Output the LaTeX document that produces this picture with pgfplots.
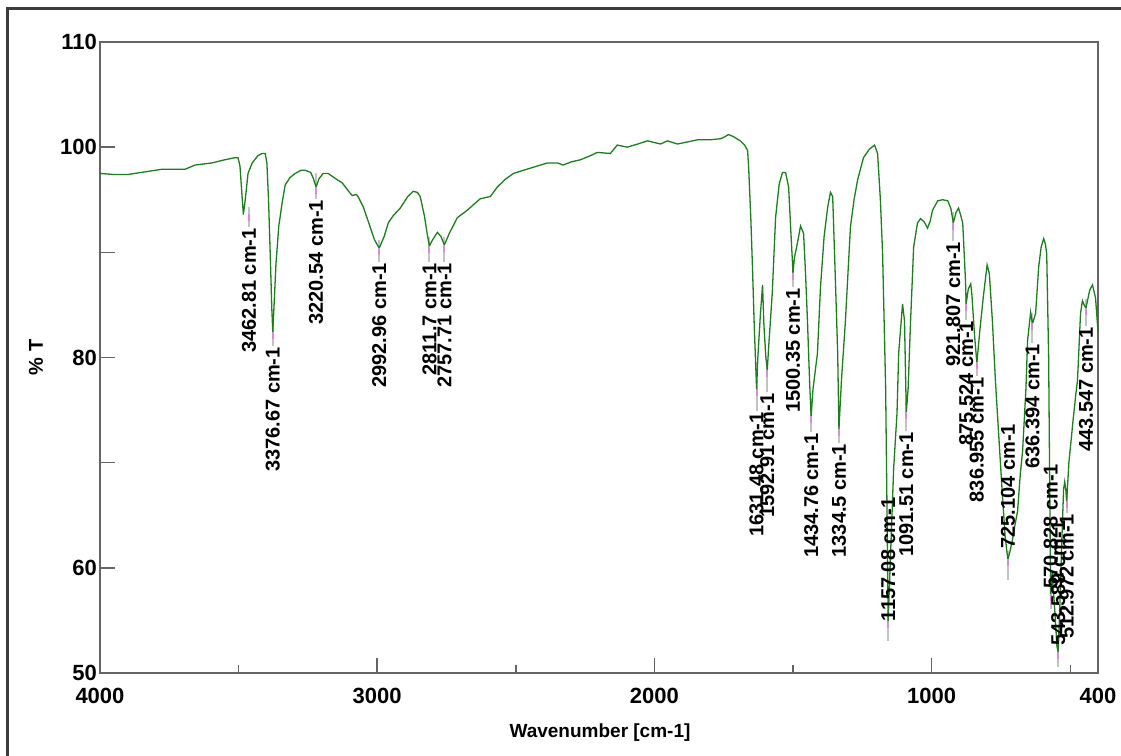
\documentclass[border=0pt]{standalone}
\usepackage{fontspec}
\setmainfont{Liberation Sans}
\usepackage{pgfplots}
\pgfplotsset{compat=1.18}
\usepackage{pgfplotstable}
\definecolor{spec}{RGB}{30,125,30}
\definecolor{frame}{RGB}{60,60,60}
\definecolor{axisgray}{RGB}{100,100,100}
\definecolor{peakgray}{RGB}{195,195,195}
\definecolor{peakpink}{RGB}{215,140,215}

\pgfplotstableread{
x y
4000 97.5
3950 97.4
3899 97.4
3850 97.6
3776 97.9
3693 97.9
3657 98.3
3596 98.5
3550 98.8
3513 99.0
3502 99.0
3495 98.2
3488 95.5
3482.81 93.6
3476 95.0
3466 97.5
3451 98.5
3430 99.2
3415 99.4
3404 99.4
3398 98.5
3392 95.0
3385 89.0
3380 84.5
3376.67 82.4
3372 85.0
3365 89.0
3355 92.5
3343 94.7
3332 96.4
3315 97.1
3296 97.5
3275 97.8
3260 97.8
3240 97.6
3230 97.0
3220.54 96.2
3210 97.0
3195 97.5
3177 97.5
3150 97.0
3126 96.6
3100 95.7
3090 95.4
3075 95.5
3069 95.3
3050 94.3
3033 93.0
3010 91.2
2992.96 90.4
2975 91.5
2960 92.8
2942 93.5
2917 94.2
2890 95.3
2870 95.8
2855 95.7
2845 95.3
2830 93.5
2820 91.8
2811.7 90.6
2800 91.2
2783 91.9
2770 91.5
2757.71 90.7
2740 91.8
2711 93.3
2675 94.0
2650 94.6
2628 95.1
2592 95.3
2567 96.2
2540 96.9
2509 97.5
2448 98.0
2386 98.5
2350 98.5
2329 98.3
2300 98.6
2267 98.8
2230 99.2
2206 99.5
2159 99.4
2134 100.2
2098 100.0
2060 100.3
2025 100.6
1978 100.3
1953 100.6
1917 100.3
1880 100.5
1845 100.7
1800 100.7
1762 100.8
1745 101.0
1733 101.2
1715 101.0
1690 100.6
1675 100.2
1664 99.7
1660 98.0
1652 93.0
1646 88.3
1640 83.0
1635 79.5
1631.48 77.0
1627 80.0
1618 84.0
1610 86.9
1605 83.0
1598 80.0
1592.91 78.8
1588 81.0
1575 86.1
1563 93.3
1550 96.5
1538 97.6
1527 97.6
1516 96.2
1508 92.0
1502 89.0
1500.35 88.0
1495 89.5
1484 90.9
1473 92.5
1462 91.8
1455 88.0
1448 83.5
1440 77.5
1434.76 74.4
1428 77.0
1412 80.4
1401 86.7
1388 91.5
1375 94.3
1365 95.7
1357 95.3
1348 88.0
1339 80.4
1334.5 73.2
1325 78.0
1311 83.5
1293 92.4
1280 95.0
1267 96.9
1246 99.0
1225 99.8
1206 100.2
1195 99.4
1185 95.0
1177 89.9
1166 77.1
1160 63.0
1157.08 54.9
1150 60.0
1137 69.5
1125 74.7
1119 80.4
1105 85.1
1098 83.5
1091.51 74.8
1085 77.0
1076 83.5
1065 90.5
1051 92.8
1040 93.2
1027 92.9
1015 92.3
1005 93.0
997 94.0
978 94.9
960 95.0
942 94.9
931 94.2
921.807 92.8
912 93.8
903 94.2
895 93.5
888 92.8
878 87.3
875.524 85.1
868 86.5
859 87.0
855 86.0
845 82.0
836.955 79.5
826 82.6
814 85.7
800 88.8
792 88.0
781 83.5
770 77.8
759 73.0
745 67.0
735 63.0
725.104 60.8
718 61.5
709 62.6
700 64.0
690 65.4
680 69.0
672 71.1
660 77.0
654 81.6
643 84.3
636.394 83.2
625 84.2
614 88.6
605 90.5
596 91.3
590 90.8
585 89.9
578 80.0
573 64.0
570.828 57.5
565 59.5
556 56.0
548 52.5
543.589 52.0
538 56.0
530 63.0
524 67.5
520 68.2
516 67.4
512.972 66.3
505 70.0
490 74.0
480 76.5
474 77.8
463 84.2
456 85.4
450 85.0
443.547 84.7
437 85.5
430 86.4
420 86.9
409 85.7
402 83.2
400 82.5
}\spectrum

\pgfplotstableread{
x ymin gt gl lt lab
3462.81 93.6 94.3 1.9 92.3 {3462.81 cm-1}
3376.67 82.4 83.2 2.1 81.0 {3376.67 cm-1}
3220.54 96.2 97.5 2.4 95.0 {3220.54 cm-1}
2992.96 90.4 91.2 2.1 89.0 {2992.96 cm-1}
2811.7 90.6 91.5 2.4 89.0 {2811.7 cm-1}
2757.71 90.7 91.5 2.4 89.0 {2757.71 cm-1}
1631.48 77.0 77.8 2.9 74.8 {1631.48 cm-1}
1592.91 78.8 79.6 2.9 76.6 {1592.91 cm-1}
1500.35 88.0 89.0 2.3 86.6 {1500.35 cm-1}
1434.76 74.4 75.3 2.4 72.8 {1434.76 cm-1}
1334.5 73.2 74.0 2.1 71.8 {1334.5 cm-1}
1157.08 54.9 56.0 3.0 66.7 {1157.08 cm-1}
1091.51 74.8 75.8 2.8 72.9 {1091.51 cm-1}
921.807 92.8 93.8 2.7 91.0 {921.807 cm-1}
875.524 85.1 86.0 2.4 83.5 {875.524 cm-1}
836.955 79.5 80.3 2.1 78.1 {836.955 cm-1}
725.104 60.8 61.6 2.8 73.7 {725.104 cm-1}
636.394 83.2 84.2 2.8 81.3 {636.394 cm-1}
570.828 57.5 58.3 2.2 69.9 {570.828 cm-1}
543.589 52.0 52.8 2.2 64.5 {543.589 cm-1}
512.972 66.3 67.0 1.8 65.1 {512.972 cm-1}
443.547 84.7 85.6 2.6 82.9 {443.547 cm-1}
}\peaks

\begin{document}
\begin{tikzpicture}
\useasboundingbox (0,0) rectangle (1121pt,755pt);
\begin{axis}[
  at={(100pt,82pt)}, anchor=south west,
  scale only axis, width=998pt, height=631pt,
  xmin=400, xmax=4000, ymin=50, ymax=110,
  x dir=reverse,
  axis line style={draw=axisgray, line width=1.5pt},
  tick style={draw=axisgray, line width=1.5pt},
  tick pos=left, tick align=inside,
  major tick length=15pt, minor tick length=8pt,
  xtick={400,1000,2000,3000,4000},
  xticklabels={400,1000,2000,3000,4000},
  minor xtick={500,1500,2500,3500},
  ytick={50,60,70,80,90,100,110},
  yticklabels={50,60,,80,,100,110},
  /pgf/number format/assume math mode=true,
  ticklabel style={font=\fontsize{22}{26}\selectfont\bfseries, inner sep=0pt},
  xticklabel style={anchor=north, yshift=-15pt},
  yticklabel style={anchor=east, xshift=-3pt},
  xlabel={Wavenumber [cm-1]},
  xlabel style={font=\fontsize{19}{23}\selectfont\bfseries, at={(axis description cs:0.501,-0.095)}, anchor=center, inner sep=0pt},
  ylabel={\% T},
  ylabel style={font=\fontsize{20}{24}\selectfont\bfseries, at={(axis description cs:-0.064,0.5)}, anchor=center, inner sep=0pt},
  clip=false,
]
% grey peak-pick lines
\addplot[draw=none, forget plot,
  error bars/.cd, y dir=minus, y explicit, error mark=none,
  error bar style={draw=peakgray, color=peakgray, line width=2pt, solid}]
  table[x=x, y=gt, y error=gl] {\peaks};
% pink segment at each picked minimum
\addplot[only marks, forget plot, mark=|, mark size=3.5pt,
  mark options={draw=peakpink, line width=2pt}]
  table[x=x, y expr=\thisrow{ymin}-0.3] {\peaks};
\addplot[spec, line width=1.3pt, mark=none] table[x=x, y=y] {\spectrum};
\addplot[draw=none, mark=none, forget plot,
  nodes near coords, point meta=explicit symbolic,
  nodes near coords style={rotate=90, anchor=east, inner sep=0pt, text=black,
    font=\fontsize{20}{24}\selectfont\bfseries}]
  table[x=x, y=lt, meta=lab] {\peaks};
\end{axis}
\draw[frame, line width=3pt] (7pt,-10pt) -- (7pt,746pt) -- (1135pt,746pt);
\end{tikzpicture}
\end{document}
